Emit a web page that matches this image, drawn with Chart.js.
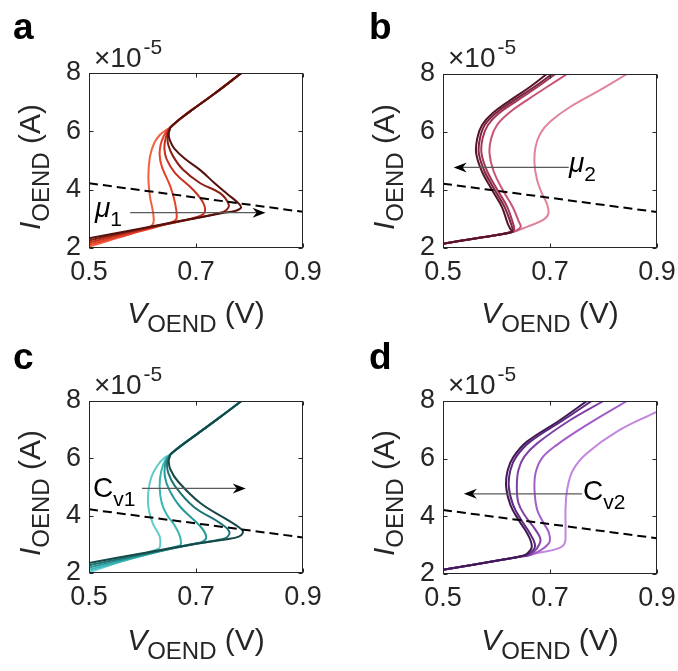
<!DOCTYPE html>
<html><head><meta charset="utf-8">
<script src="https://cdn.jsdelivr.net/npm/chart.js@4.4.0/dist/chart.umd.min.js"></script>
<style>
body{margin:0;background:#fff;}
#wrap{position:relative;width:678px;height:671px;overflow:hidden;font-family:'Liberation Sans',Arial,sans-serif;color:#262626;}
canvas{position:absolute;left:0;top:0;}
.t{position:absolute;white-space:nowrap;line-height:1;}
.letter{font-size:37px;font-weight:bold;color:#000;}
.exp{font-size:28px;}
.exp .sup{font-size:21px;position:relative;top:-13px;margin-left:2px;}
.xl{font-size:30px;transform:translateX(-50%);}
.yl{font-size:30px;transform:translate(-50%,-50%) rotate(-90deg);}
.sub{font-size:24px;position:relative;top:9px;}
.ann{font-size:28px;color:#000;}
.ann .s{font-size:21px;position:relative;top:9px;}
</style></head>
<body>
<div id="wrap">
<canvas id="ca" width="678" height="671"></canvas>
<canvas id="cb" width="678" height="671"></canvas>
<canvas id="cc" width="678" height="671"></canvas>
<canvas id="cd" width="678" height="671"></canvas>

<div class="t letter" style="left:13px;top:8px;">a</div>
<div class="t letter" style="left:369px;top:8px;">b</div>
<div class="t letter" style="left:13px;top:338px;">c</div>
<div class="t letter" style="left:369px;top:338px;">d</div>

<div class="t exp" style="left:94px;top:44px;">×10<span class="sup">-5</span></div>
<div class="t exp" style="left:448px;top:44px;">×10<span class="sup">-5</span></div>
<div class="t exp" style="left:94px;top:371px;">×10<span class="sup">-5</span></div>
<div class="t exp" style="left:448px;top:371px;">×10<span class="sup">-5</span></div>

<div class="t yl" style="left:30px;top:167px;"><i>I</i><span class="sub">OEND</span> (A)</div>
<div class="t yl" style="left:384px;top:167px;"><i>I</i><span class="sub">OEND</span> (A)</div>
<div class="t yl" style="left:30px;top:493px;"><i>I</i><span class="sub">OEND</span> (A)</div>
<div class="t yl" style="left:384px;top:493px;"><i>I</i><span class="sub">OEND</span> (A)</div>

<div class="t xl" style="left:196px;top:298px;"><i>V</i><span class="sub">OEND</span> (V)</div>
<div class="t xl" style="left:550px;top:298px;"><i>V</i><span class="sub">OEND</span> (V)</div>
<div class="t xl" style="left:196px;top:625px;"><i>V</i><span class="sub">OEND</span> (V)</div>
<div class="t xl" style="left:550px;top:625px;"><i>V</i><span class="sub">OEND</span> (V)</div>

<div class="t ann" style="left:95px;top:194px;"><i>μ</i><span class="s">1</span></div>
<div class="t ann" style="left:569px;top:149px;"><i>μ</i><span class="s">2</span></div>
<div class="t ann" style="left:93px;top:474px;">C<span class="s">v1</span></div>
<div class="t ann" style="left:583px;top:477px;">C<span class="s">v2</span></div>
</div>

<script>
// ---- tick labels ----
const xTickValues = [0.5, 0.7, 0.9];
const yTickValues = [2, 4, 6, 8];

// ---- load line (dashed) ----
const loadV = [0.5, 0.9];
const loadI = [4.22, 3.24];

// ---- panel a (mu1), light -> dark ----
const aTopV = [0.652, 0.659, 0.670, 0.690, 0.733, 0.785];
const aTopI = [6.13, 6.25, 6.42, 6.70, 7.27, 8.00];
const a1V = [0.500, 0.560, 0.600, 0.618, 0.621, 0.619, 0.614, 0.611, 0.614, 0.622, 0.633, 0.643];
const a1I = [2.05, 2.38, 2.62, 2.78, 2.95, 3.30, 3.76, 4.45, 5.14, 5.60, 5.89, 6.03];
const a2V = [0.500, 0.580, 0.640, 0.660, 0.664, 0.661, 0.652, 0.636, 0.632, 0.634, 0.640, 0.647];
const a2I = [2.12, 2.50, 2.80, 2.93, 3.05, 3.53, 4.11, 4.80, 5.20, 5.55, 5.85, 6.05];
const a3V = [0.500, 0.600, 0.680, 0.705, 0.716, 0.714, 0.695, 0.661, 0.645, 0.641, 0.643, 0.648];
const a3I = [2.19, 2.63, 2.96, 3.08, 3.22, 3.53, 3.99, 4.57, 5.05, 5.40, 5.75, 6.03];
const a4V = [0.500, 0.600, 0.700, 0.742, 0.757, 0.761, 0.745, 0.708, 0.676, 0.657, 0.648, 0.647, 0.650];
const a4I = [2.26, 2.66, 3.02, 3.19, 3.30, 3.50, 3.88, 4.22, 4.68, 5.15, 5.55, 5.85, 6.05];
const a5V = [0.500, 0.600, 0.700, 0.750, 0.773, 0.784, 0.780, 0.758, 0.735, 0.708, 0.680, 0.660, 0.651, 0.649, 0.651];
const a5I = [2.33, 2.68, 3.03, 3.20, 3.27, 3.38, 3.52, 3.86, 4.22, 4.67, 5.05, 5.40, 5.70, 5.92, 6.06];
const aArrowV = [0.577, 0.830];
const aArrowI = [3.21, 3.21];

// ---- panel b (mu2) ----
const bLowV = [0.500, 0.560, 0.629];
const bLowI = [2.15, 2.33, 2.55];
const b1V = [0.657, 0.688, 0.697, 0.694, 0.685, 0.676, 0.671, 0.673, 0.682, 0.700, 0.738, 0.794, 0.844];
const b1I = [2.73, 2.98, 3.19, 3.53, 3.88, 4.34, 4.91, 5.49, 5.95, 6.35, 6.87, 7.45, 8.00];
const b2V = [0.645, 0.642, 0.630, 0.612, 0.595, 0.587, 0.590, 0.601, 0.622, 0.657, 0.695, 0.732];
const b2I = [2.72, 2.90, 3.42, 3.99, 4.63, 5.26, 5.78, 6.24, 6.64, 7.10, 7.56, 8.00];
const b3V = [0.633, 0.631, 0.620, 0.602, 0.583, 0.572, 0.574, 0.584, 0.604, 0.640, 0.677, 0.710];
const b3I = [2.65, 2.84, 3.42, 3.99, 4.63, 5.26, 5.78, 6.24, 6.64, 7.10, 7.56, 8.00];
const b4V = [0.630, 0.627, 0.615, 0.597, 0.578, 0.567, 0.569, 0.578, 0.598, 0.633, 0.671, 0.704];
const b4I = [2.65, 2.84, 3.42, 3.99, 4.63, 5.26, 5.78, 6.24, 6.64, 7.10, 7.56, 8.00];
const b5V = [0.626, 0.621, 0.610, 0.592, 0.573, 0.562, 0.564, 0.573, 0.592, 0.626, 0.663, 0.694];
const b5I = [2.65, 2.84, 3.42, 3.99, 4.63, 5.26, 5.78, 6.24, 6.64, 7.10, 7.56, 8.00];
const bArrowV = [0.735, 0.520];
const bArrowI = [4.78, 4.78];

// ---- panel c (Cv1) ----
const cTopV = [0.652, 0.659, 0.670, 0.700, 0.733, 0.785];
const cTopI = [6.13, 6.25, 6.41, 6.82, 7.27, 8.00];
const c1V = [0.500, 0.560, 0.610, 0.630, 0.633, 0.632, 0.619, 0.611, 0.611, 0.617, 0.628, 0.640];
const c1I = [2.03, 2.40, 2.72, 2.85, 2.95, 3.28, 3.74, 4.30, 4.85, 5.37, 5.75, 6.00];
const c2V = [0.500, 0.600, 0.655, 0.670, 0.672, 0.670, 0.661, 0.645, 0.636, 0.632, 0.635, 0.643];
const c2I = [2.11, 2.60, 2.88, 2.96, 3.04, 3.28, 3.63, 4.05, 4.44, 5.00, 5.55, 5.95];
const c3V = [0.500, 0.600, 0.690, 0.713, 0.719, 0.708, 0.670, 0.650, 0.642, 0.642, 0.647];
const c3I = [2.19, 2.62, 3.00, 3.10, 3.28, 3.63, 4.32, 4.90, 5.35, 5.75, 6.03];
const c4V = [0.500, 0.600, 0.700, 0.745, 0.758, 0.762, 0.745, 0.695, 0.660, 0.648, 0.646, 0.650];
const c4I = [2.27, 2.65, 3.02, 3.17, 3.25, 3.45, 3.74, 4.32, 5.05, 5.50, 5.85, 6.05];
const c5V = [0.500, 0.600, 0.700, 0.758, 0.780, 0.787, 0.786, 0.758, 0.708, 0.666, 0.652, 0.649, 0.651];
const c5I = [2.35, 2.69, 3.02, 3.18, 3.27, 3.38, 3.51, 3.86, 4.44, 5.20, 5.62, 5.90, 6.06];
const cArrowV = [0.599, 0.793];
const cArrowI = [4.95, 4.95];

// ---- panel d (Cv2) ----
const dLowV = [0.500, 0.613, 0.6445];
const dLowI = [2.15, 2.50, 2.61];
const d1V = [0.676, 0.713, 0.727, 0.729, 0.729, 0.732, 0.743, 0.769, 0.825, 0.900];
const d1I = [2.73, 2.87, 3.05, 3.42, 4.23, 4.92, 5.61, 6.19, 6.94, 7.63];
const d2V = [0.670, 0.698, 0.698, 0.688, 0.676, 0.671, 0.673, 0.685, 0.713, 0.769, 0.844];
const d2I = [2.70, 3.07, 3.42, 3.77, 4.23, 4.92, 5.50, 6.02, 6.48, 7.17, 8.00];
const d3V = [0.663, 0.682, 0.673, 0.654, 0.641, 0.638, 0.641, 0.652, 0.676, 0.738, 0.800];
const d3I = [2.67, 3.13, 3.53, 4.00, 4.46, 5.03, 5.61, 6.07, 6.53, 7.34, 8.00];
const d4V = [0.660, 0.672, 0.662, 0.646, 0.631, 0.623, 0.626, 0.637, 0.663, 0.725, 0.778];
const d4I = [2.70, 2.96, 3.42, 3.88, 4.40, 5.03, 5.61, 6.07, 6.59, 7.34, 8.00];
const d5V = [0.657, 0.666, 0.657, 0.641, 0.626, 0.618, 0.621, 0.632, 0.657, 0.719, 0.769];
const d5I = [2.70, 2.96, 3.42, 3.88, 4.40, 5.03, 5.61, 6.07, 6.59, 7.34, 8.00];
const dArrowV = [0.760, 0.539];
const dArrowI = [4.78, 4.78];

// ---- colours (light -> dark) ----
const aColors = ['#f2603f', '#e8412a', '#c8301d', '#8c1f14', '#55110c'];
const bColors = ['#e0849a', '#c95474', '#a63558', '#7c2440', '#561628'];
const cColors = ['#5ccccc', '#3bb4b4', '#269a9a', '#1d7474', '#174848'];
const dColors = ['#c286e0', '#a35dc8', '#8040a6', '#5e2a80', '#3f1a55'];

const W = 678, H = 671;
const FONT = "'Liberation Sans', Arial, sans-serif";

function pts(V, I) { return V.map((v, k) => ({ x: v, y: I[k] })); }
function cat(a, b) { return a.concat(b); }

function framePlugin(arrowV, arrowI) {
  return {
    id: 'frame',
    afterDatasetsDraw(chart) {
      const { ctx, chartArea: a, scales: { x, y } } = chart;
      ctx.save();
      ctx.strokeStyle = '#262626';
      ctx.lineWidth = 1;
      const L = Math.round(a.left) + 0.5, R = Math.round(a.right) - 0.5;
      const T = Math.round(a.top) + 0.5, B = Math.round(a.bottom) - 0.5;
      ctx.strokeRect(L, T, R - L, B - T);
      const tl = 4;
      ctx.beginPath();
      xTickValues.forEach(v => {
        const px = Math.round(x.getPixelForValue(v)) + 0.5;
        ctx.moveTo(px, B); ctx.lineTo(px, B - tl);
        ctx.moveTo(px, T); ctx.lineTo(px, T + tl);
      });
      yTickValues.forEach(v => {
        const py = Math.round(y.getPixelForValue(v)) + 0.5;
        ctx.moveTo(L, py); ctx.lineTo(L + tl, py);
        ctx.moveTo(R, py); ctx.lineTo(R - tl, py);
      });
      ctx.stroke();
      // arrow
      const x0 = x.getPixelForValue(arrowV[0]), y0 = y.getPixelForValue(arrowI[0]);
      const x1 = x.getPixelForValue(arrowV[1]), y1 = y.getPixelForValue(arrowI[1]);
      const ang = Math.atan2(y1 - y0, x1 - x0);
      const c = Math.cos(ang), s = Math.sin(ang);
      ctx.strokeStyle = '#5a5a5a';
      ctx.lineWidth = 1.3;
      ctx.beginPath();
      ctx.moveTo(x0, y0);
      ctx.lineTo(x1 - 8 * c, y1 - 8 * s);
      ctx.stroke();
      const back = 13, half = 5, notch = 9;
      ctx.fillStyle = '#000';
      ctx.beginPath();
      ctx.moveTo(x1, y1);
      ctx.lineTo(x1 - back * c + half * s, y1 - back * s - half * c);
      ctx.lineTo(x1 - notch * c, y1 - notch * s);
      ctx.lineTo(x1 - back * c - half * s, y1 - back * s + half * c);
      ctx.closePath();
      ctx.fill();
      ctx.restore();
    }
  };
}

function makePanel(id, box, curves, colors, arrowV, arrowI) {
  const datasets = [{
    data: pts(loadV, loadI), borderColor: '#000', borderWidth: 2, borderDash: [9, 5],
    showLine: true, pointRadius: 0, tension: 0
  }];
  for (let k = curves.length - 1; k >= 0; k--) {
    datasets.push({
      data: curves[k], borderColor: colors[k], borderWidth: 2,
      showLine: true, pointRadius: 0, tension: 0.4, fill: false
    });
  }
  const tickFont = { family: FONT, size: 27 };
  new Chart(document.getElementById(id), {
    type: 'scatter',
    data: { datasets },
    options: {
      responsive: false, animation: false, devicePixelRatio: 1, events: [],
      layout: { padding: { left: 0, top: box.top, right: W - box.right, bottom: 0 } },
      plugins: { legend: { display: false }, tooltip: { enabled: false } },
      scales: {
        x: {
          type: 'linear', min: 0.5, max: 0.9,
          afterBuildTicks: s => { s.ticks = xTickValues.map(v => ({ value: v })); },
          afterFit: s => { s.height = H - box.bottom; s.paddingLeft = 0; s.paddingRight = 0; },
          grid: { display: false, drawTicks: false }, border: { display: false },
          ticks: { font: tickFont, color: '#262626', padding: 8, maxRotation: 0, autoSkip: false,
                   callback: v => Number(v).toFixed(1) }
        },
        y: {
          type: 'linear', min: 2, max: 8,
          afterBuildTicks: s => { s.ticks = yTickValues.map(v => ({ value: v })); },
          afterFit: s => { s.width = box.left; s.paddingTop = 0; s.paddingBottom = 0; },
          grid: { display: false, drawTicks: false }, border: { display: false },
          ticks: { font: tickFont, color: '#262626', padding: 8, autoSkip: false,
                   callback: v => String(v) }
        }
      }
    },
    plugins: [framePlugin(arrowV, arrowI)]
  });
}

makePanel('ca', { left: 89, right: 303, top: 73, bottom: 248 },
  [pts(cat(a1V, aTopV), cat(a1I, aTopI)), pts(cat(a2V, aTopV), cat(a2I, aTopI)),
   pts(cat(a3V, aTopV), cat(a3I, aTopI)), pts(cat(a4V, aTopV), cat(a4I, aTopI)),
   pts(cat(a5V, aTopV), cat(a5I, aTopI))], aColors, aArrowV, aArrowI);

makePanel('cb', { left: 443, right: 657, top: 74, bottom: 248 },
  [pts(cat(bLowV, b1V), cat(bLowI, b1I)), pts(cat(bLowV, b2V), cat(bLowI, b2I)),
   pts(cat(bLowV, b3V), cat(bLowI, b3I)), pts(cat(bLowV, b4V), cat(bLowI, b4I)),
   pts(cat(bLowV, b5V), cat(bLowI, b5I))], bColors, bArrowV, bArrowI);

makePanel('cc', { left: 89, right: 303, top: 401, bottom: 573 },
  [pts(cat(c1V, cTopV), cat(c1I, cTopI)), pts(cat(c2V, cTopV), cat(c2I, cTopI)),
   pts(cat(c3V, cTopV), cat(c3I, cTopI)), pts(cat(c4V, cTopV), cat(c4I, cTopI)),
   pts(cat(c5V, cTopV), cat(c5I, cTopI))], cColors, cArrowV, cArrowI);

makePanel('cd', { left: 443, right: 657, top: 401, bottom: 574 },
  [pts(cat(dLowV, d1V), cat(dLowI, d1I)), pts(cat(dLowV, d2V), cat(dLowI, d2I)),
   pts(cat(dLowV, d3V), cat(dLowI, d3I)), pts(cat(dLowV, d4V), cat(dLowI, d4I)),
   pts(cat(dLowV, d5V), cat(dLowI, d5I))], dColors, dArrowV, dArrowI);
</script>
</body></html>
